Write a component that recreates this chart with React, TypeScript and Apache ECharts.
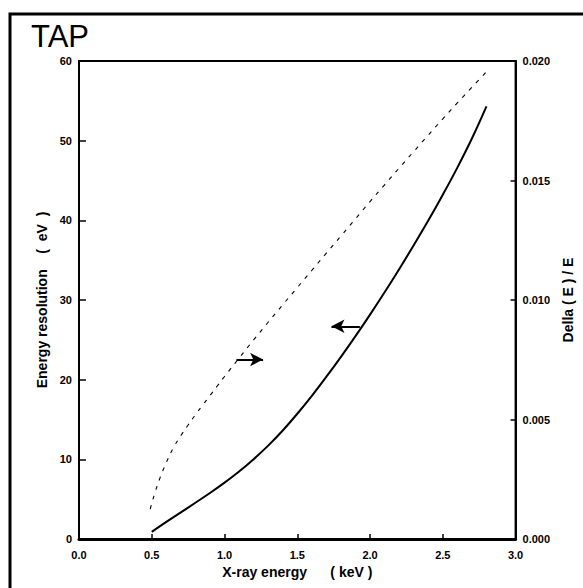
import React, { useEffect, useRef } from "react";
import * as echarts from "echarts";

// X-ray energy (keV) vs energy resolution (eV), left axis
const solidEnergy = [0.5, 0.6, 0.7, 0.8, 0.9, 1.0, 1.1, 1.2, 1.3, 1.4, 1.5, 1.6, 1.7, 1.8, 1.9, 2.0, 2.1, 2.2, 2.3, 2.4, 2.5, 2.6, 2.7, 2.8];
const solidResolution = [0.9, 2.15, 3.35, 4.55, 5.77, 7.07, 8.47, 10.02, 11.72, 13.62, 15.72, 17.97, 20.37, 22.87, 25.47, 28.17, 30.97, 33.87, 36.87, 39.97, 43.22, 46.62, 50.27, 54.3];

// X-ray energy (keV) vs Delta(E)/E, right axis
const dashEnergy = [0.49, 0.5, 0.52, 0.55, 0.6, 0.65, 0.7, 0.75, 0.8, 0.85, 0.9, 0.95, 1.0, 1.1, 1.2, 1.3, 1.4, 1.5, 1.6, 1.7, 1.8, 1.9, 2.0, 2.1, 2.2, 2.3, 2.4, 2.5, 2.6, 2.7, 2.8];
const dashRatio = [0.00125, 0.0015, 0.0019, 0.00245, 0.0032, 0.00383, 0.00433, 0.00477, 0.0052, 0.0056, 0.006, 0.0064, 0.0068, 0.00757, 0.00833, 0.00907, 0.0098, 0.01052, 0.01124, 0.01196, 0.01268, 0.0134, 0.01412, 0.01482, 0.01552, 0.01621, 0.0169, 0.01758, 0.01825, 0.0189, 0.01955];

// Annotation arrows (data coordinates): [from, to]
const leftArrow = [[1.93, 26.7], [1.735, 26.7]];
const rightArrow = [[1.082, 0.00751], [1.265, 0.00751]];

const title = "TAP";
const xName = "X-ray energy      ( keV )";
const yLeftName = "Energy resolution    (  eV  )";
const yRightName = "Della ( E ) / E";

const FONT = "Liberation Sans, Arial, Helvetica, sans-serif";

export default function App() {
  const ref = useRef<HTMLDivElement>(null);
  useEffect(() => {
    if (!ref.current) return;
    const chart = echarts.init(ref.current, null, { renderer: "svg" });
    const labelStyle = { color: "#000", fontFamily: FONT, fontWeight: "bold" as const, fontSize: 11 };
    const nameStyle = { color: "#000", fontFamily: FONT, fontWeight: "bold" as const, fontSize: 14 };
    chart.setOption({
      animation: false,
      backgroundColor: "#fff",
      grid: {
        left: 79,
        right: 67,
        top: 61,
        bottom: 49,
        show: true,
        borderColor: "#000",
        borderWidth: 2,
        backgroundColor: "transparent",
      },
      graphic: [
        {
          type: "rect",
          shape: { x: 10, y: 14, width: 620, height: 620 },
          style: { fill: "none", stroke: "#000", lineWidth: 3 },
          silent: true,
        },
        {
          type: "text",
          x: 31,
          y: 36,
          style: {
            text: title,
            fontSize: 31,
            fontFamily: FONT,
            fill: "#000",
            verticalAlign: "middle",
            align: "left",
          },
        },
      ],
      xAxis: {
        type: "value",
        min: 0,
        max: 3,
        interval: 0.5,
        name: xName,
        nameLocation: "middle",
        nameGap: 26,
        nameTextStyle: nameStyle,
        axisLine: { show: true, lineStyle: { color: "#000", width: 3 } },
        axisTick: { show: true, inside: true, length: 5, lineStyle: { color: "#000", width: 1.5 } },
        axisLabel: { ...labelStyle, margin: 10, formatter: (v: number) => v.toFixed(1) },
        splitLine: { show: false },
      },
      yAxis: [
        {
          type: "value",
          position: "left",
          min: 0,
          max: 60,
          interval: 10,
          name: yLeftName,
          nameLocation: "middle",
          nameRotate: 90,
          nameGap: 28,
          nameTextStyle: nameStyle,
          axisLine: { show: true, lineStyle: { color: "#000", width: 2 } },
          axisTick: { show: true, inside: true, length: 7, lineStyle: { color: "#000", width: 1.5 } },
          axisLabel: { ...labelStyle, margin: 7 },
          splitLine: { show: false },
        },
        {
          type: "value",
          position: "right",
          min: 0,
          max: 0.02,
          interval: 0.005,
          name: yRightName,
          nameLocation: "middle",
          nameRotate: 90,
          nameGap: 45,
          nameTextStyle: nameStyle,
          axisLine: { show: true, lineStyle: { color: "#000", width: 2 } },
          axisTick: { show: true, inside: true, length: 5, lineStyle: { color: "#000", width: 1.5 } },
          axisLabel: { ...labelStyle, margin: 7, formatter: (v: number) => v.toFixed(3) },
          splitLine: { show: false },
        },
      ],
      series: [
        {
          type: "line",
          name: "Energy resolution",
          yAxisIndex: 0,
          smooth: 0.4,
          showSymbol: false,
          silent: true,
          data: solidEnergy.map((e, i) => [e, solidResolution[i]]),
          lineStyle: { color: "#000", width: 2 },
          markLine: {
            silent: true,
            symbol: ["none", "arrow"],
            symbolSize: [10, 13],
            label: { show: false },
            lineStyle: { color: "#000", width: 2, type: "solid" },
            data: [[{ coord: leftArrow[0] }, { coord: leftArrow[1] }]],
          },
        },
        {
          type: "line",
          name: "Delta(E)/E",
          yAxisIndex: 1,
          smooth: 0.4,
          showSymbol: false,
          silent: true,
          data: dashEnergy.map((e, i) => [e, dashRatio[i]]),
          lineStyle: { color: "#000", width: 1.1, type: [4, 6] },
          markLine: {
            silent: true,
            symbol: ["none", "arrow"],
            symbolSize: [10, 13],
            label: { show: false },
            lineStyle: { color: "#000", width: 2, type: "solid" },
            data: [[{ coord: rightArrow[0] }, { coord: rightArrow[1] }]],
          },
        },
      ],
    });
    return () => chart.dispose();
  }, []);
  return (
    <div
      ref={ref}
      style={{ position: "fixed", left: 0, top: 0, width: 583, height: 588, background: "#fff" }}
    />
  );
}
